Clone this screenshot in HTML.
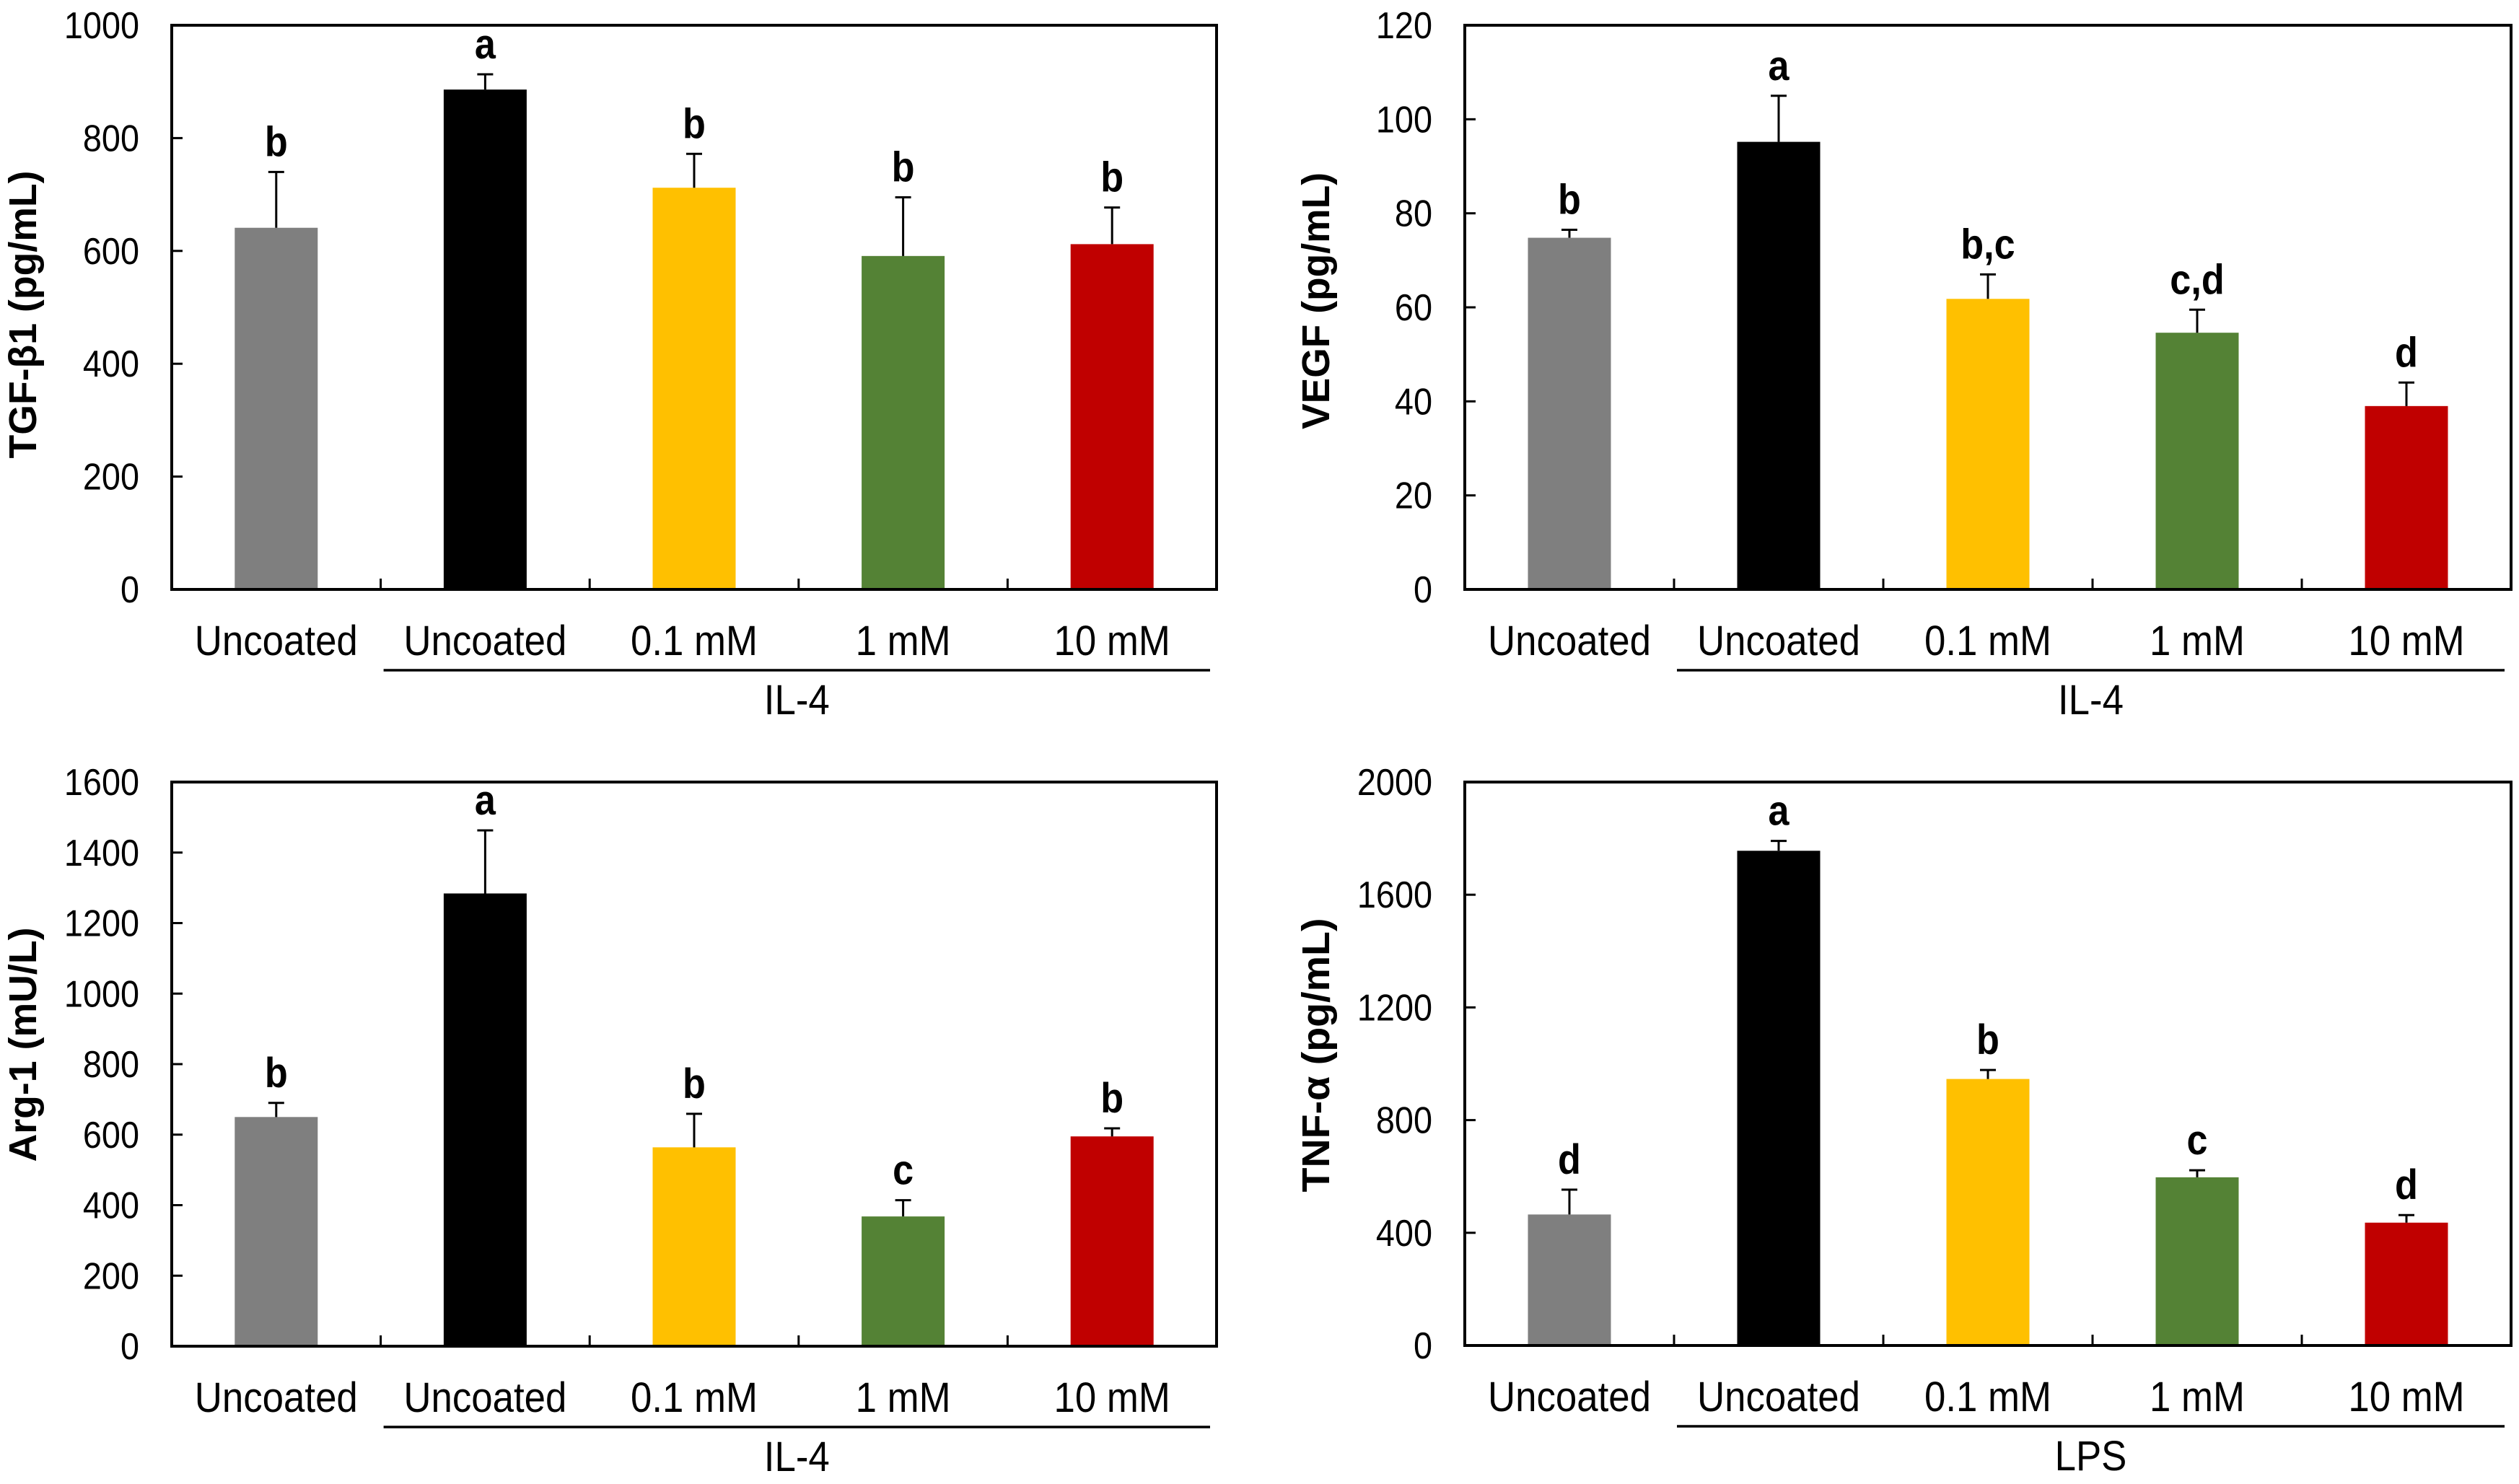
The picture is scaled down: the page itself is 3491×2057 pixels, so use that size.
<!DOCTYPE html>
<html><head><meta charset="utf-8"><style>
html,body{margin:0;padding:0;background:#fff}
svg{display:block}
text{font-family:"Liberation Sans",Arial,sans-serif}
</style></head>
<body>
<svg id="fig" width="3491" height="2057" viewBox="0 0 3491 2057" xmlns="http://www.w3.org/2000/svg"></svg>
<script>
const categories = ["Uncoated","Uncoated","0.1 mM","1 mM","10 mM"];
const barColors = ["#7f7f7f","#000000","#ffc000","#548235","#c00000"];

const tgfValues = [641, 886, 712, 591, 612];
const tgfErrors = [740, 913, 772, 695, 677];
const tgfLetters = ["b","a","b","b","b"];
const tgfTicks = [0,200,400,600,800,1000];

const vegfValues = [74.8, 95.2, 61.8, 54.6, 39.0];
const vegfErrors = [76.5, 105, 67, 59.5, 44];
const vegfLetters = ["b","a","b,c","c,d","d"];
const vegfTicks = [0,20,40,60,80,100,120];

const argValues = [650, 1284, 564, 368, 595];
const argErrors = [690, 1463, 659, 414, 618];
const argLetters = ["b","a","b","c","b"];
const argTicks = [0,200,400,600,800,1000,1200,1400,1600];

const tnfValues = [465, 1756, 946, 597, 436];
const tnfErrors = [553, 1791, 978, 622, 463];
const tnfLetters = ["d","a","b","c","d"];
const tnfTicks = [0,400,800,1200,1600,2000];

const svg = document.getElementById('fig');
const NS = "http://www.w3.org/2000/svg";
function mk(tag, attrs, parent){
  const e = document.createElementNS(NS, tag);
  for (const k in attrs) e.setAttribute(k, attrs[k]);
  parent.appendChild(e);
  return e;
}
function squeeze(t, f){
  const w = t.getComputedTextLength();
  t.setAttribute('textLength', (w * f).toFixed(1));
  t.setAttribute('lengthAdjust', 'spacingAndGlyphs');
}

function panel(key, box, ticks, values, errors, letters, title, titleLen, titleOff, group){
  const g = mk('g', {}, svg);
  
  
  const {x0, x1, y0, y1} = box;
  const yMax = ticks[ticks.length-1];
  const ys = v => y1 - (v / yMax) * (y1 - y0);
  const step = (x1 - x0) / categories.length;
  const xc = i => x0 + step * (i + 0.5);
  const bw = 115;

  values.forEach((v, i) => {
    const r = mk('rect', {x: xc(i) - bw/2, y: ys(v), width: bw, height: y1 - ys(v), fill: barColors[i]}, g);
    
    
    const e = mk('path', {d: `M${xc(i)},${ys(v)}V${ys(errors[i])}M${xc(i)-11},${ys(errors[i])}H${xc(i)+11}`, stroke: '#000', 'stroke-width': 3, fill: 'none'}, g);
    
    
    const t = mk('text', {x: xc(i), y: ys(errors[i]) - 22, 'text-anchor': 'middle', 'font-size': 58, 'font-weight': 'bold'}, g);
    t.textContent = letters[i];
    
    
    squeeze(t, 0.9);
    const c = mk('text', {x: xc(i), y: y1 + 91, 'text-anchor': 'middle', 'font-size': 58}, g);
    c.textContent = categories[i];
    
    
    squeeze(c, 0.91);
  });

  const f = mk('rect', {x: x0, y: y0, width: x1 - x0, height: y1 - y0, fill: 'none', stroke: '#000', 'stroke-width': 4}, g);
  
  

  ticks.forEach(t => {
    const tk = mk('line', {x1: x0, x2: x0 + 15, y1: ys(t), y2: ys(t), stroke: '#000', 'stroke-width': 3}, g);
    
    
    const l = mk('text', {x: x0 - 45, y: ys(t) + 18, 'text-anchor': 'end', 'font-size': 52}, g);
    l.textContent = t;
    
    
    squeeze(l, 0.9);
  });
  for (let i = 1; i < categories.length; i++) {
    const tk = mk('line', {x1: x0 + step*i, x2: x0 + step*i, y1: y1, y2: y1 - 15, stroke: '#000', 'stroke-width': 3}, g);
    
    
  }

  const cy = (y0 + y1) / 2 + titleOff;
  const tx = x0 - 188;
  const yt = mk('text', {x: tx, y: cy, 'text-anchor': 'middle', 'font-size': 54, 'font-weight': 'bold', transform: `rotate(-90 ${tx} ${cy})`, textLength: titleLen, lengthAdjust: 'spacingAndGlyphs'}, g);
  yt.textContent = title;
  
  

  const gx0 = x0 + step * 1 + 4, gx1 = x1 - 9;
  const gl = mk('line', {x1: gx0, x2: gx1, y1: y1 + 112, y2: y1 + 112, stroke: '#000', 'stroke-width': 3.5}, g);
  
  
  const gt = mk('text', {x: (gx0 + gx1)/2, y: y1 + 173, 'text-anchor': 'middle', 'font-size': 58}, g);
  gt.textContent = group;
  
  
  squeeze(gt, 0.91);
}

panel('tgf', {x0: 238, x1: 1686, y0: 35, y1: 817}, tgfTicks, tgfValues, tgfErrors, tgfLetters, 'TGF-β1 (pg/mL)', 399, 10, 'IL-4');
panel('vegf', {x0: 2030, x1: 3480, y0: 35, y1: 817}, vegfTicks, vegfValues, vegfErrors, vegfLetters, 'VEGF (pg/mL)', 356, -9, 'IL-4');
panel('arg', {x0: 238, x1: 1686, y0: 1084, y1: 1866}, argTicks, argValues, argErrors, argLetters, 'Arg-1 (mU/L)', 325, -27, 'IL-4');
panel('tnf', {x0: 2030, x1: 3480, y0: 1084, y1: 1865}, tnfTicks, tnfValues, tnfErrors, tnfLetters, 'TNF-α (pg/mL)', 380, -12, 'LPS');
</script>
</body></html>
